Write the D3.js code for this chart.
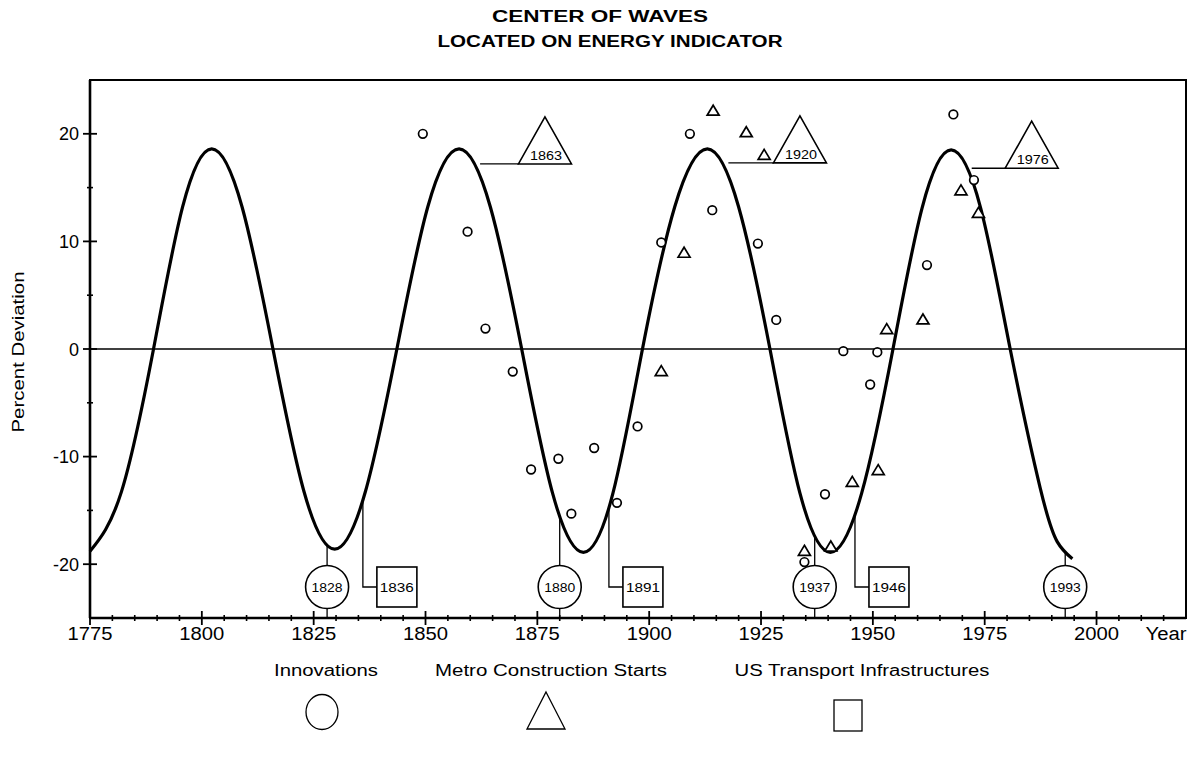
<!DOCTYPE html>
<html>
<head>
<meta charset="utf-8">
<script src="https://cdn.jsdelivr.net/npm/d3@7/dist/d3.min.js"></script>
<style>
  body { margin: 0; background: #fff; }
  text { fill: #000; font-family: "Liberation Sans", Arial, sans-serif; }
</style>
</head>
<body>
<svg id="chart" width="1188" height="760"></svg>
<script>
// wave (year, percent deviation)
const waveYears  = [1775, 1782, 1789.2, 1795.7, 1802.2, 1809, 1815.9, 1822.8, 1829.7, 1836.6,
                    1843.6, 1850.5, 1857.5, 1864.5, 1871.5, 1878.4, 1885.3, 1891.9, 1898.5, 1905.7,
                    1913, 1920, 1927, 1933.7, 1940.5, 1947.5, 1954.5, 1961, 1967.5, 1974.1,
                    1980.7, 1987.4, 1991.2, 1994.6];
const waveValues = [-18.8, -13.3, 0, 13.2, 18.6, 13.2, 0, -13.2, -18.6, -13.2,
                    0, 13.2, 18.6, 13.2, 0, -13.4, -18.9, -13.4, 0, 13.2,
                    18.6, 13.2, 0, -13.4, -18.9, -13.4, 0, 13.1, 18.5, 13.1,
                    0, -12.9, -17.9, -19.5];

// innovations (circles)
const innovYears  = [1849.4, 1859.4, 1863.4, 1869.5, 1873.6, 1879.7, 1882.6, 1887.7, 1892.8, 1897.4,
                     1902.7, 1909.1, 1914.1, 1924.3, 1928.4, 1934.7, 1939.3, 1943.4, 1949.4, 1951.0,
                     1962.1, 1968.0, 1972.6];
const innovValues = [20.0, 10.9, 1.9, -2.1, -11.2, -10.2, -15.3, -9.2, -14.3, -7.2,
                     9.9, 20.0, 12.9, 9.8, 2.7, -19.8, -13.5, -0.2, -3.3, -0.3,
                     7.8, 21.8, 15.7];

// metro construction starts (triangles)
const metroYears  = [1902.7, 1907.8, 1914.3, 1921.7, 1925.7, 1934.7, 1940.6, 1945.4, 1951.2, 1953.1,
                     1961.2, 1969.7, 1973.6];
const metroValues = [-2.1, 8.9, 22.1, 20.1, 18.0, -18.8, -18.4, -12.4, -11.3, 1.8,
                     2.7, 14.7, 12.6];

// wave centres
const innovCentres = [1828, 1880, 1937, 1993];
const transportCentres = [1836, 1891, 1946];
const metroCentres = ["1863", "1920", "1976"];
const metroFrom = [1862.2, 1917.7, 1972.1];
const metroAt   = [1876.7, 1933.7, 1985.5];
const metroBase = [17.2, 17.3, 16.8];

const xTickLabels = [1775, 1800, 1825, 1850, 1875, 1900, 1925, 1950, 1975, 2000];
const yTickLabels = [-20, -10, 0, 10, 20];
const legendLabels = ["Innovations", "Metro Construction Starts", "US Transport Infrastructures"];

const svg = d3.select('#chart');
const plotLeft = 90, plotRight = 1186, plotTop = 80, plotBottom = 618;

const x = d3.scaleLinear().domain([1775, 2020]).range([plotLeft, plotRight]);
const y = d3.scaleLinear().domain([-25, 25]).range([plotBottom, plotTop]);

// title
svg.append('text').attr('x', 600).attr('y', 22).attr('text-anchor', 'middle')
  .attr('font-size', 16).attr('font-weight', 'bold')
  .attr('textLength', 216).attr('lengthAdjust', 'spacingAndGlyphs')
  .text('CENTER OF WAVES');
svg.append('text').attr('x', 610).attr('y', 47).attr('text-anchor', 'middle')
  .attr('font-size', 16).attr('font-weight', 'bold')
  .attr('textLength', 345).attr('lengthAdjust', 'spacingAndGlyphs')
  .text('LOCATED ON ENERGY INDICATOR');

// zero line
svg.append('line')
  .attr('x1', plotLeft).attr('x2', plotRight).attr('y1', y(0)).attr('y2', y(0))
  .attr('stroke', '#000').attr('stroke-width', 1.3);

// frame
svg.append('rect')
  .attr('x', plotLeft).attr('y', plotTop).attr('width', plotRight - plotLeft).attr('height', plotBottom - plotTop)
  .attr('fill', 'none').attr('stroke', '#000').attr('stroke-width', 2);
svg.append('line').attr('x1', plotLeft).attr('x2', plotLeft).attr('y1', plotTop).attr('y2', plotBottom)
  .attr('stroke', '#000').attr('stroke-width', 2.6);
svg.append('line').attr('x1', plotLeft).attr('x2', plotRight).attr('y1', plotBottom).attr('y2', plotBottom)
  .attr('stroke', '#000').attr('stroke-width', 2.6);

// ticks crossing the axes
const xMinor = d3.range(1780, 2020, 5).filter(v => v % 25 !== 0);
const yMinor = [-15, -5, 5, 15];
function xTicks(values, len, w) {
  svg.append('g').selectAll('line').data(values).enter().append('line')
    .attr('x1', d => x(d)).attr('x2', d => x(d))
    .attr('y1', plotBottom - len).attr('y2', plotBottom + len)
    .attr('stroke', '#000').attr('stroke-width', w);
}
function yTicks(values, len, w) {
  svg.append('g').selectAll('line').data(values).enter().append('line')
    .attr('y1', d => y(d)).attr('y2', d => y(d))
    .attr('x1', plotLeft - len).attr('x2', plotLeft + len)
    .attr('stroke', '#000').attr('stroke-width', w);
}
xTicks(xMinor, 3, 1.6);
xTicks(xTickLabels, 7, 1.8);
yTicks(yMinor, 3, 1.6);
yTicks(yTickLabels, 7, 1.8);

// tick labels
svg.append('g').selectAll('text').data(xTickLabels).enter().append('text')
  .attr('x', d => x(d)).attr('y', 640).attr('text-anchor', 'middle')
  .attr('font-size', 18).attr('textLength', 45).attr('lengthAdjust', 'spacingAndGlyphs')
  .text(d => d);
svg.append('text').attr('x', 1166).attr('y', 640).attr('text-anchor', 'middle')
  .attr('font-size', 18).attr('textLength', 41).attr('lengthAdjust', 'spacingAndGlyphs')
  .text('Year');
svg.append('g').selectAll('text').data(yTickLabels).enter().append('text')
  .attr('x', 79).attr('y', d => y(d) + 6.5).attr('text-anchor', 'end')
  .attr('font-size', 18)
  .text(d => d);
svg.append('text')
  .attr('transform', `translate(24,${y(0) + 3}) rotate(-90)`)
  .attr('text-anchor', 'middle').attr('font-size', 16)
  .attr('textLength', 161).attr('lengthAdjust', 'spacingAndGlyphs')
  .text('Percent Deviation');

// wave
const wave = waveYears.map((yr, i) => [yr, waveValues[i]]);
const wavePath = svg.append('path')
  .datum(wave)
  .attr('d', d3.line().x(d => x(d[0])).y(d => y(d[1])).curve(d3.curveNatural))
  .attr('fill', 'none').attr('stroke', '#000').attr('stroke-width', 3.2);

// y on the drawn wave at a given pixel x
const waveNode = wavePath.node();
const waveLen = waveNode.getTotalLength();
function waveYAt(px) {
  let lo = 0, hi = waveLen;
  for (let k = 0; k < 40; k++) {
    const mid = (lo + hi) / 2;
    if (waveNode.getPointAtLength(mid).x < px) lo = mid; else hi = mid;
  }
  return waveNode.getPointAtLength(lo).y;
}

// innovation points
svg.append('g').selectAll('circle')
  .data(innovYears.map((yr, i) => [yr, innovValues[i]]))
  .enter().append('circle')
  .attr('cx', d => x(d[0])).attr('cy', d => y(d[1])).attr('r', 4.3)
  .attr('fill', '#fff').attr('stroke', '#000').attr('stroke-width', 1.7);

// metro points
const tri = (cx, cy, w, h) => `M${cx},${cy - h * 0.6}L${cx + w / 2},${cy + h * 0.4}L${cx - w / 2},${cy + h * 0.4}Z`;
svg.append('g').selectAll('path')
  .data(metroYears.map((yr, i) => [yr, metroValues[i]]))
  .enter().append('path')
  .attr('d', d => tri(x(d[0]), y(d[1]), 12, 10))
  .attr('fill', '#fff').attr('stroke', '#000').attr('stroke-width', 1.7);

const markFont = 12;
const centreY = 587;

// innovation centres: circles on the axis
innovCentres.forEach(yr => {
  const cx = x(yr);
  const g = svg.append('g');
  g.append('line').attr('x1', cx).attr('x2', cx).attr('y1', waveYAt(cx)).attr('y2', centreY)
    .attr('stroke', '#000').attr('stroke-width', 1.3);
  g.append('line').attr('x1', cx).attr('x2', cx).attr('y1', centreY).attr('y2', plotBottom)
    .attr('stroke', '#000').attr('stroke-width', 1.3);
  g.append('circle').attr('cx', cx).attr('cy', centreY).attr('r', 21.5)
    .attr('fill', '#fff').attr('stroke', '#000').attr('stroke-width', 1.6);
  g.append('text').attr('x', cx).attr('y', centreY + 4.5).attr('text-anchor', 'middle')
    .attr('font-size', markFont).attr('textLength', 31).attr('lengthAdjust', 'spacingAndGlyphs')
    .text(yr);
});

// transport centres: boxes to the right
transportCentres.forEach(yr => {
  const cx = x(yr);
  const g = svg.append('g');
  g.append('path')
    .attr('d', `M${cx},${waveYAt(cx)}V${centreY}H${cx + 14}`)
    .attr('fill', 'none').attr('stroke', '#000').attr('stroke-width', 1.3);
  g.append('rect').attr('x', cx + 14).attr('y', centreY - 20).attr('width', 40).attr('height', 40)
    .attr('fill', '#fff').attr('stroke', '#000').attr('stroke-width', 1.6);
  g.append('text').attr('x', cx + 34).attr('y', centreY + 4.5).attr('text-anchor', 'middle')
    .attr('font-size', markFont).attr('textLength', 34).attr('lengthAdjust', 'spacingAndGlyphs')
    .text(yr);
});

// metro centres: triangles near the crests
metroCentres.forEach((label, i) => {
  const x0 = x(metroFrom[i]);
  const cx = x(metroAt[i]);
  const by = y(metroBase[i]);
  const g = svg.append('g');
  g.append('line').attr('x1', x0).attr('x2', cx - 26).attr('y1', by).attr('y2', by)
    .attr('stroke', '#000').attr('stroke-width', 1.3);
  g.append('path').attr('d', `M${cx},${by - 47}L${cx + 26.5},${by}L${cx - 26.5},${by}Z`)
    .attr('fill', '#fff').attr('stroke', '#000').attr('stroke-width', 1.6);
  g.append('text').attr('x', cx + 1).attr('y', by - 4).attr('text-anchor', 'middle')
    .attr('font-size', markFont).attr('textLength', 32).attr('lengthAdjust', 'spacingAndGlyphs')
    .text(label);
});

// legend
const legendX = [326, 551, 862];
const legendW = [104, 232, 255];
svg.append('g').selectAll('text').data(legendLabels).enter().append('text')
  .attr('x', (d, i) => legendX[i]).attr('y', 676).attr('text-anchor', 'middle')
  .attr('font-size', 16)
  .attr('textLength', (d, i) => legendW[i]).attr('lengthAdjust', 'spacingAndGlyphs')
  .text(d => d);
svg.append('ellipse').attr('cx', 322).attr('cy', 712).attr('rx', 16).attr('ry', 17.5)
  .attr('fill', 'none').attr('stroke', '#000').attr('stroke-width', 1.3);
svg.append('path').attr('d', 'M546,692L565,729L527,729Z')
  .attr('fill', 'none').attr('stroke', '#000').attr('stroke-width', 1.3);
svg.append('rect').attr('x', 834).attr('y', 700).attr('width', 28).attr('height', 31)
  .attr('fill', 'none').attr('stroke', '#000').attr('stroke-width', 1.3);
</script>
</body>
</html>
